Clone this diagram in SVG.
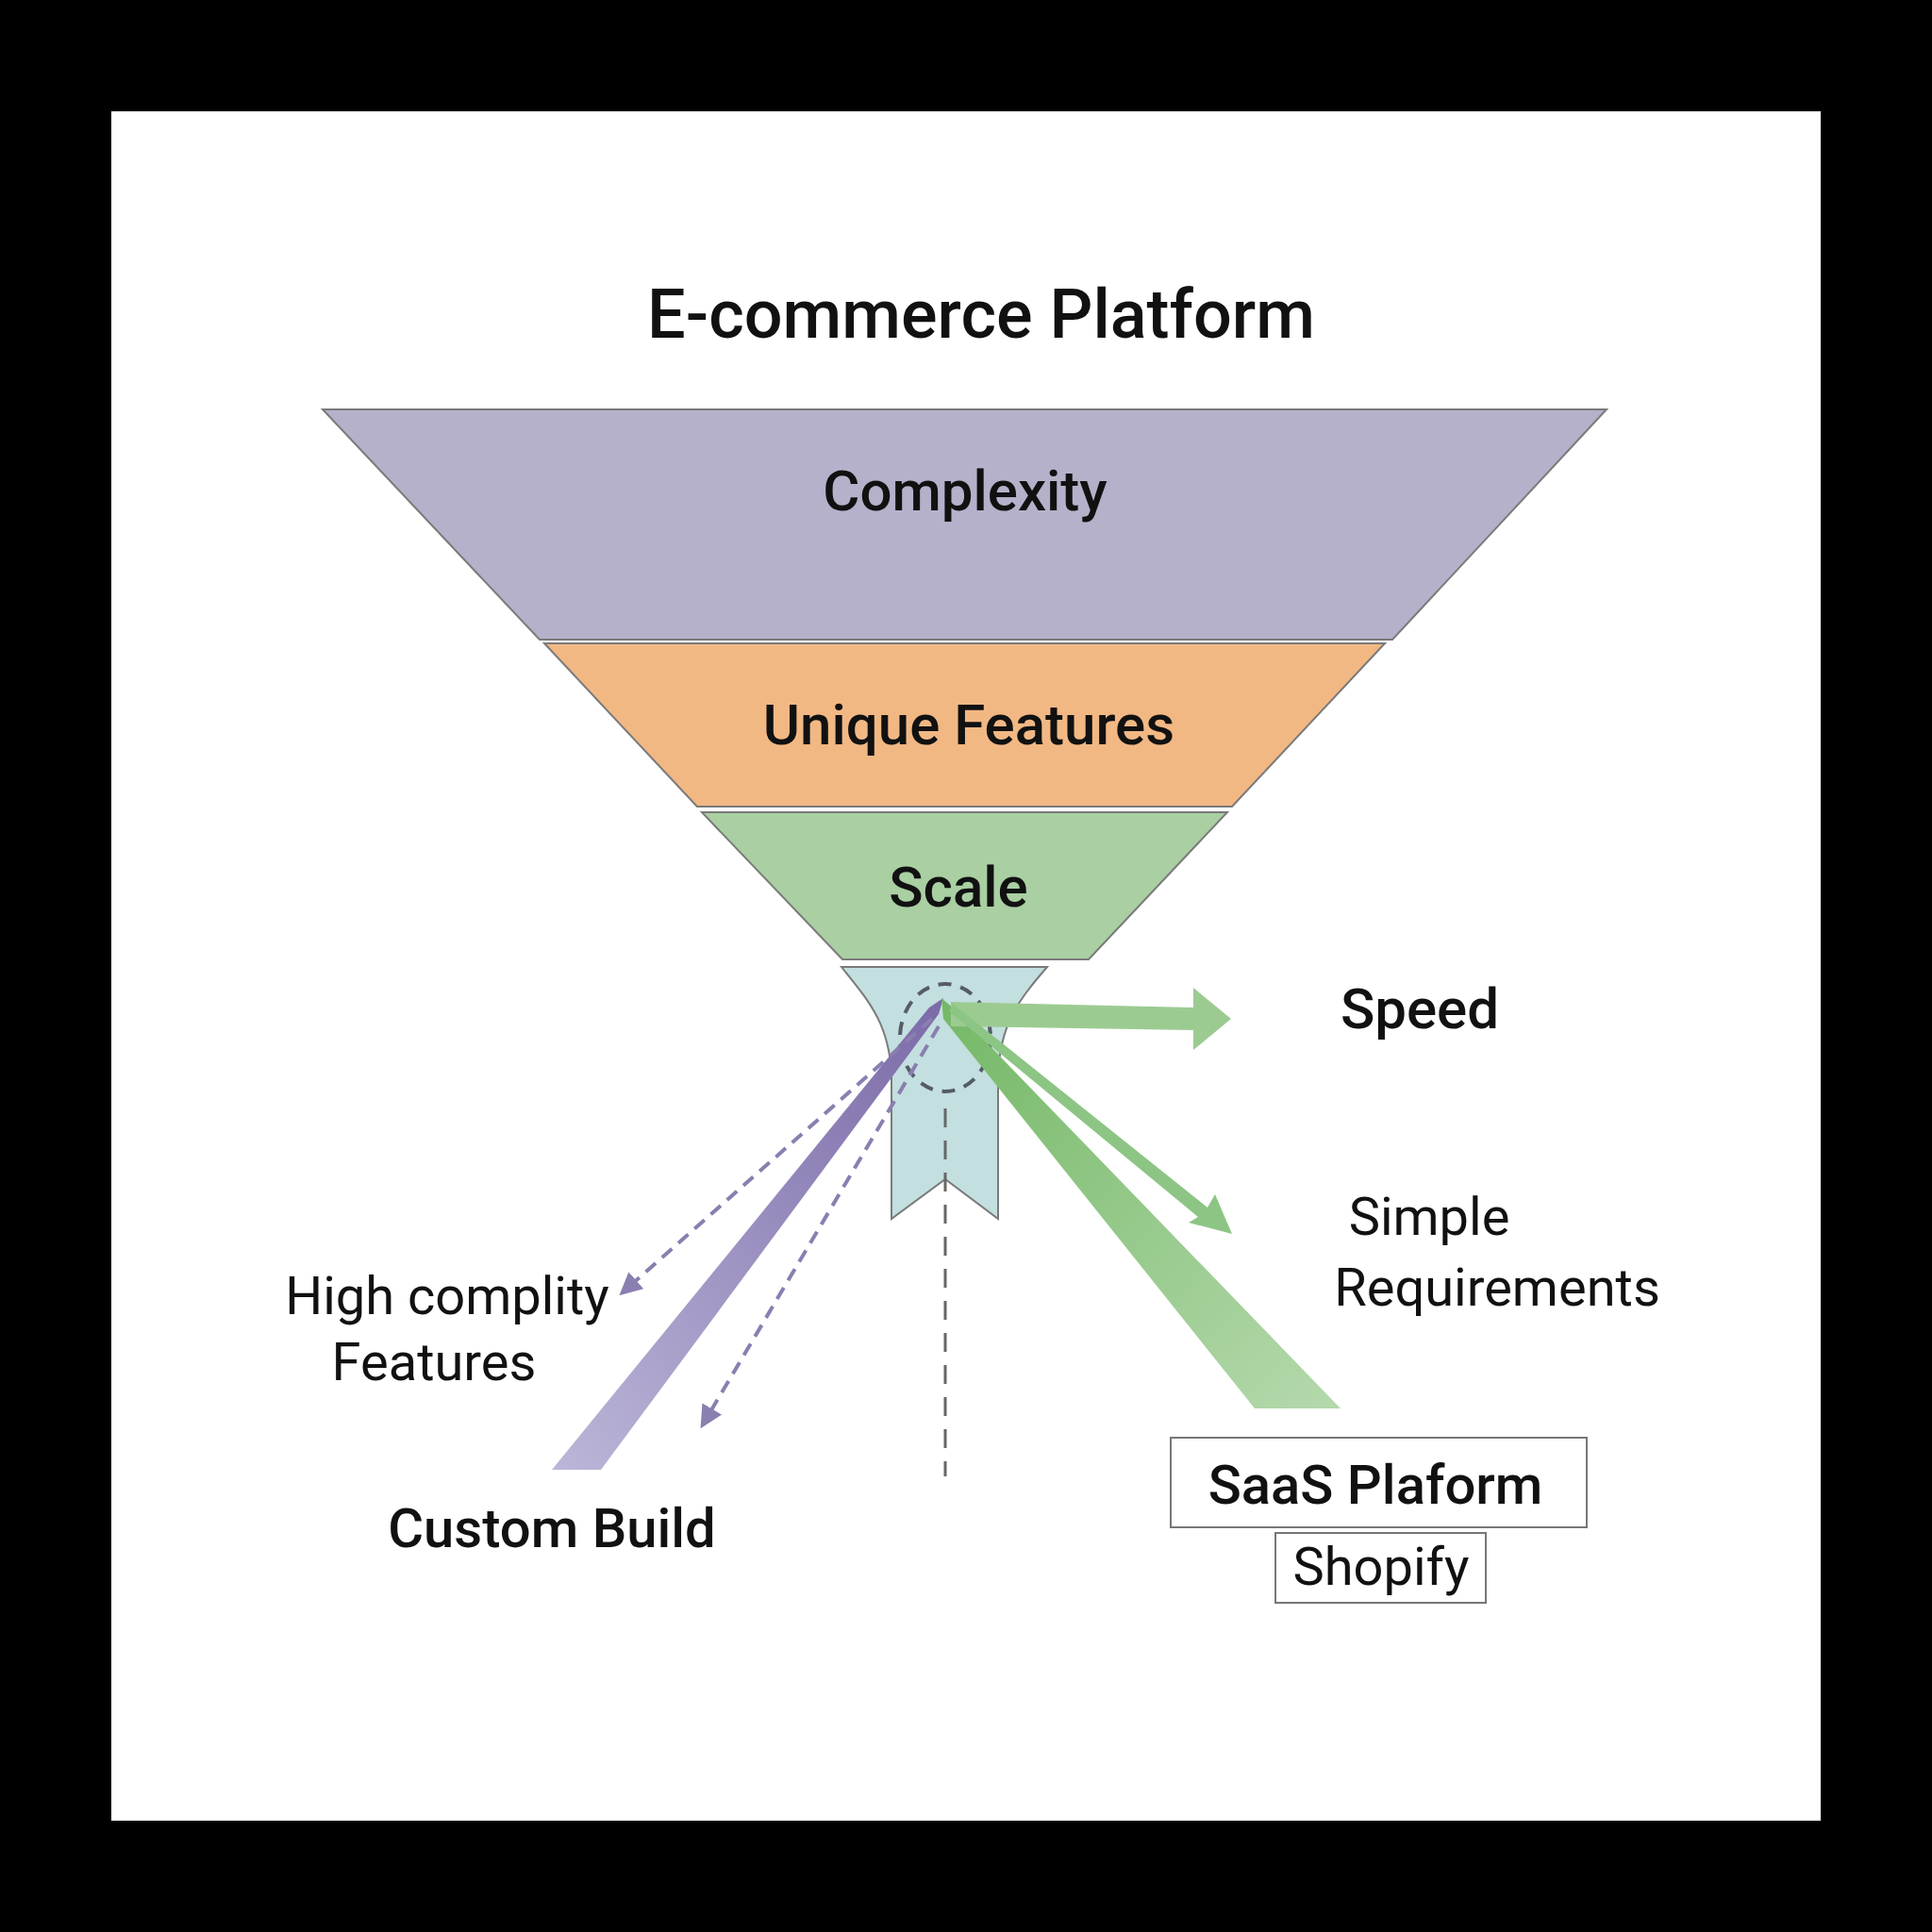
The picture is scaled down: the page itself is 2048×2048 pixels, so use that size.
<svg xmlns="http://www.w3.org/2000/svg" width="2048" height="2048" viewBox="0 0 2048 2048">
<defs>
<style>
.t{font-family:Roboto,"Liberation Sans",sans-serif;fill:#111;text-anchor:middle}
.b{font-weight:500}
.layer{stroke:#7a7a7a;stroke-width:2}
.dp{stroke:#8a7fb0;stroke-width:4;stroke-dasharray:14 9;fill:none}
</style>
<linearGradient id="gp" x1="0" y1="1" x2="1" y2="0"><stop offset="0" stop-color="#bcb6d8"/><stop offset="1" stop-color="#7b6aa8"/></linearGradient>
<linearGradient id="gg" x1="0" y1="0" x2="1" y2="1"><stop offset="0" stop-color="#74b866"/><stop offset="1" stop-color="#b5d9ad"/></linearGradient>
<marker id="mp" viewBox="0 0 10 10" refX="8" refY="5" markerWidth="6" markerHeight="6" orient="auto"><path d="M0,0L10,5L0,10z" fill="#8a7fb0"/></marker>
</defs>
<rect width="2048" height="2048" fill="#000"/>
<rect x="118" y="118" width="1812" height="1812" fill="#fff"/>
<text class="t b" x="1040" y="358" font-size="72">E-commerce Platform</text>
<g id="complexity"><polygon class="layer" points="342,434 1703,434 1476,678 572,678" fill="#b5b1ca"/><text class="t b" x="1023" y="541" font-size="60">Complexity</text></g>
<g id="unique"><polygon class="layer" points="577,682 1468,682 1306,855 739,855" fill="#f2b884"/><text class="t b" x="1027" y="789" font-size="60">Unique Features</text></g>
<g id="scale"><polygon class="layer" points="744,861 1301,861 1154,1017 893,1017" fill="#a9cfa2"/><text class="t b" x="1016" y="961" font-size="60">Scale</text></g>
<g id="neck"><path class="layer" d="M892,1025 L1110,1025 C1080,1060 1060,1085 1058,1140 L1058,1292 L1002,1250 L945,1292 L945,1140 C943,1085 920,1060 892,1025 Z" fill="#c3dfdf"/>
<ellipse cx="1002" cy="1100" rx="48" ry="57" fill="none" stroke="#555c66" stroke-width="4" stroke-dasharray="14 10"/></g>
<g id="connectors">
<line x1="1002" y1="1175" x2="1002" y2="1565" stroke="#666" stroke-width="3" stroke-dasharray="20 14"/>
<polygon points="585,1558 637,1558 995,1075 1000,1058 985,1068" fill="url(#gp)"/>
<polygon points="998,1058 1012,1070 1421,1493 1330,1493 1000,1080" fill="url(#gg)"/>
<polygon points="1008,1062 1265,1068 1265,1047 1305,1080 1265,1113 1265,1092 1008,1088" fill="#9ccb92"/>
<polygon points="1010,1064 1280,1280 1288,1266 1306,1308 1260,1296 1270,1290 1006,1072" fill="#8cc584"/>
<line class="dp" x1="988" y1="1080" x2="660" y2="1370" marker-end="url(#mp)"/>
<line class="dp" x1="995" y1="1088" x2="745" y2="1510" marker-end="url(#mp)"/>
</g>
<g id="speed"><text class="t b" x="1505" y="1090" font-size="60">Speed</text></g>
<g id="simple"><text class="t" x="1515" y="1309" font-size="56">Simple</text><text class="t" x="1587" y="1384" font-size="56">Requirements</text></g>
<g id="high"><text class="t" x="474" y="1393" font-size="56">High complity</text><text class="t" x="460" y="1463" font-size="56">Features</text></g>
<g id="custom"><text class="t b" x="585" y="1640" font-size="58">Custom Build</text></g>
<g id="saas"><rect x="1241" y="1524" width="441" height="95" fill="#fff" stroke="#777" stroke-width="2"/><text class="t b" x="1458" y="1594" font-size="58">SaaS Plaform</text></g>
<g id="shopify"><rect x="1352" y="1625" width="223" height="74" fill="#fff" stroke="#777" stroke-width="2"/><text class="t" x="1464" y="1680" font-size="56">Shopify</text></g>
</svg>
